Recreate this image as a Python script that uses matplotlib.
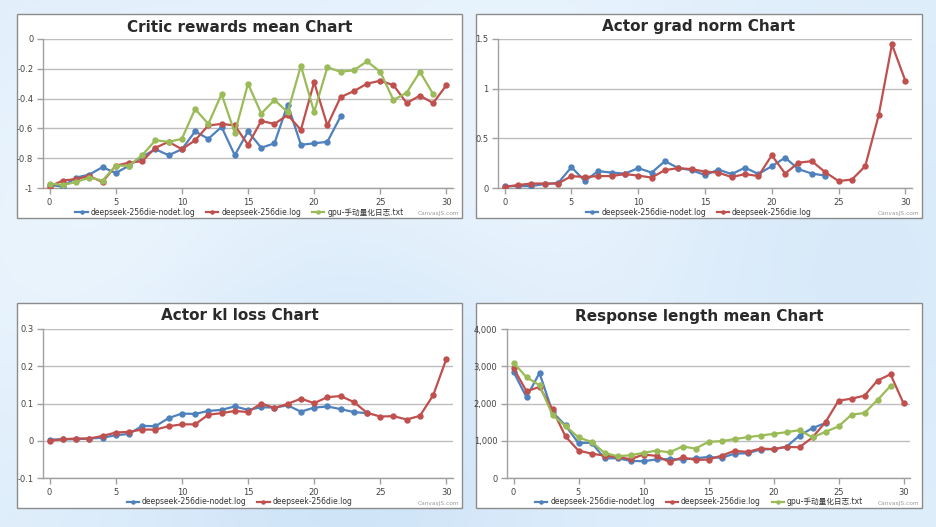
import numpy as np
import matplotlib.pyplot as plt
from matplotlib.patches import Rectangle
from matplotlib.ticker import FuncFormatter

# --------------------------------------------------------------------------- #
# Data
# --------------------------------------------------------------------------- #
NAME_NODET = "deepseek-256die-nodet.log"
NAME_DIE = "deepseek-256die.log"
NAME_GPU = "gpu-手动量化日志.txt"

critic_nodet = [-0.98, -0.99, -0.93, -0.91, -0.86, -0.90, -0.85, -0.79, -0.74, -0.78,
                -0.74, -0.62, -0.67, -0.59, -0.78, -0.62, -0.73, -0.70, -0.44, -0.71,
                -0.70, -0.69, -0.52]
critic_die = [-0.99, -0.95, -0.94, -0.92, -0.96, -0.85, -0.83, -0.82, -0.73, -0.69,
              -0.74, -0.68, -0.58, -0.57, -0.58, -0.71, -0.55, -0.57, -0.51, -0.61,
              -0.29, -0.58, -0.39, -0.35, -0.30, -0.28, -0.31, -0.43, -0.38, -0.43,
              -0.31]
critic_gpu = [-0.97, -0.98, -0.96, -0.93, -0.95, -0.85, -0.85, -0.78, -0.68, -0.69,
              -0.67, -0.47, -0.57, -0.37, -0.63, -0.30, -0.50, -0.41, -0.49, -0.18,
              -0.49, -0.19, -0.22, -0.21, -0.15, -0.22, -0.41, -0.36, -0.22, -0.37]

grad_nodet = [0.02, 0.02, 0.02, 0.04, 0.05, 0.21, 0.07, 0.17, 0.155, 0.145,
              0.20, 0.155, 0.27, 0.20, 0.18, 0.13, 0.185, 0.14, 0.205, 0.14,
              0.22, 0.305, 0.19, 0.145, 0.125]
grad_die = [0.01, 0.03, 0.045, 0.045, 0.045, 0.12, 0.11, 0.12, 0.12, 0.14,
            0.125, 0.105, 0.18, 0.20, 0.19, 0.165, 0.155, 0.11, 0.14, 0.12,
            0.33, 0.145, 0.255, 0.27, 0.16, 0.07, 0.085, 0.22, 0.73, 1.445,
            1.08]

kl_nodet = [0.003, 0.004, 0.004, 0.006, 0.008, 0.015, 0.018, 0.040, 0.039, 0.061,
            0.073, 0.072, 0.080, 0.083, 0.092, 0.083, 0.090, 0.089, 0.095, 0.078,
            0.089, 0.092, 0.085, 0.077, 0.074]
kl_die = [0.000, 0.004, 0.006, 0.006, 0.013, 0.022, 0.024, 0.030, 0.030, 0.039,
          0.044, 0.044, 0.070, 0.074, 0.080, 0.077, 0.100, 0.088, 0.099, 0.113,
          0.101, 0.117, 0.120, 0.104, 0.075, 0.065, 0.066, 0.057, 0.067, 0.122,
          0.220]

resp_nodet = [2850, 2170, 2820, 1770, 1410, 935, 950, 530, 530, 460,
              450, 500, 510, 495, 530, 565, 540, 655, 665, 765,
              775, 840, 1140, 1340, 1475]
resp_die = [2950, 2330, 2445, 1840, 1115, 735, 655, 600, 565, 505,
            630, 595, 430, 555, 485, 495, 600, 730, 700, 790,
            775, 835, 825, 1090, 1500, 2075, 2130, 2210, 2615, 2785,
            2005]
resp_gpu = [3100, 2705, 2490, 1690, 1395, 1090, 970, 675, 585, 610,
            675, 735, 690, 845, 790, 970, 990, 1045, 1095, 1140,
            1185, 1230, 1285, 1090, 1240, 1385, 1700, 1745, 2095, 2470]

# --------------------------------------------------------------------------- #
# Style
# --------------------------------------------------------------------------- #
BLUE = "#4F81BC"
RED = "#C0504E"
GREEN = "#9BBB58"
FONTS = ["DejaVu Sans", "Noto Sans CJK SC"]

W, H = 936, 527
fig = plt.figure(figsize=(W / 100, H / 100), dpi=100)

# slide background: soft light-blue gradient
yy, xx = np.mgrid[0:H, 0:W]
base = np.array([0.88, 0.935, 0.985])
img = np.ones((H, W, 3)) * base
blobs = [(360, 420, 180, -0.10), (800, 260, 160, -0.05), (520, 250, 200, 0.07),
         (120, 260, 150, 0.05)]
for cx, cy, r, amt in blobs:
    g = np.exp(-(((xx - cx) ** 2) + ((yy - cy) ** 2)) / (2 * r ** 2))
    img += amt * g[..., None] * np.array([1.0, 0.6, 0.2])
img = np.clip(img, 0, 1)
bg = fig.add_axes([0, 0, 1, 1])
bg.imshow(img, aspect="auto", extent=[0, W, H, 0])
bg.set_xlim(0, W)
bg.set_ylim(H, 0)
bg.axis("off")


def px_axes(x0, y0, x1, y1):
    return fig.add_axes([x0 / W, 1 - y1 / H, (x1 - x0) / W, (y1 - y0) / H])


def panel(box, plot, title, series, ylim, yticks, yfmt):
    bx0, by0, bx1, by1 = box
    bg.add_patch(Rectangle((bx0, by0), bx1 - bx0, by1 - by0, facecolor="white",
                           edgecolor="#8c8c8c", linewidth=1.0, zorder=2))
    ax = px_axes(*plot)
    ax.set_facecolor("none")
    handles = []
    for name, vals, color in series:
        x = np.arange(len(vals))
        h, = ax.plot(x, vals, color=color, linewidth=1.6, marker="o",
                     markersize=4.6, markeredgewidth=0, label=name, zorder=3)
        handles.append(h)
    ax.set_xlim(-0.5, 30.5)
    ax.set_ylim(*ylim)
    ax.set_xticks(range(0, 31, 5))
    ax.set_yticks(yticks)
    ax.yaxis.set_major_formatter(FuncFormatter(yfmt))
    ax.grid(axis="y", color="#bdbdbd", linewidth=1.0)
    ax.set_axisbelow(True)
    for s in ("top", "right"):
        ax.spines[s].set_visible(False)
    for s in ("left", "bottom"):
        ax.spines[s].set_color("#a0a0a0")
        ax.spines[s].set_linewidth(1.0)
    ax.tick_params(axis="both", labelsize=6, colors="#a0a0a0", labelcolor="#444444",
                   length=4, width=1.0, pad=3)
    for lab in ax.get_xticklabels() + ax.get_yticklabels():
        lab.set_fontfamily(FONTS)

    cx = (bx0 + bx1) / 2
    bg.text(cx, by0 + 13, title, ha="center", va="center", fontsize=11,
            fontweight="heavy", color="#2a2a2a", family=FONTS, zorder=4)
    fig.legend(handles=handles, loc="center",
               bbox_to_anchor=(cx / W, 1 - (by1 - 6) / H), ncol=len(handles),
               frameon=False, prop={"family": FONTS, "size": 5.5},
               handlelength=1.6, handletextpad=0.4, columnspacing=1.4,
               markerscale=0.7, labelcolor="#333333")
    bg.text(bx1 - 3, by1 - 4, "CanvasJS.com", ha="right", va="center",
            fontsize=4.2, color="#9a9a9a", family=FONTS, zorder=4)
    return ax


def fmt_g(v, _):
    return "%g" % round(v, 3)


def fmt_comma(v, _):
    return "{:,.0f}".format(v)


panel((17, 14, 462, 218), (43, 39, 453, 188), "Critic rewards mean Chart",
      [(NAME_NODET, critic_nodet, BLUE), (NAME_DIE, critic_die, RED),
       (NAME_GPU, critic_gpu, GREEN)],
      (-1, 0), [-1, -0.8, -0.6, -0.4, -0.2, 0], fmt_g)

panel((476, 14, 922, 218), (498, 39, 912, 188), "Actor grad norm Chart",
      [(NAME_NODET, grad_nodet, BLUE), (NAME_DIE, grad_die, RED)],
      (0, 1.5), [0, 0.5, 1, 1.5], fmt_g)

panel((17, 303, 462, 508), (43, 329, 453, 478), "Actor kl loss Chart",
      [(NAME_NODET, kl_nodet, BLUE), (NAME_DIE, kl_die, RED)],
      (-0.1, 0.3), [-0.1, 0, 0.1, 0.2, 0.3], fmt_g)

panel((476, 303, 922, 508), (507, 329, 910, 478), "Response length mean Chart",
      [(NAME_NODET, resp_nodet, BLUE), (NAME_DIE, resp_die, RED),
       (NAME_GPU, resp_gpu, GREEN)],
      (0, 4000), [0, 1000, 2000, 3000, 4000], fmt_comma)

fig.savefig("out.png", dpi=100)
